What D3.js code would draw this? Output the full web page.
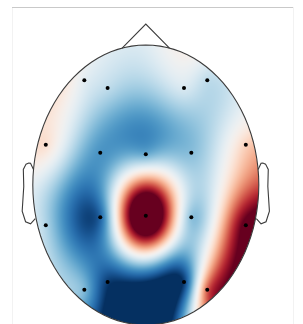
<!DOCTYPE html>
<html lang="en">
<head>
  <meta charset="UTF-8">
  <title>Topomap</title>
  <style>
    html, body { margin: 0; padding: 0; background: #fff; overflow: hidden; }
    #wrap { position: relative; width: 303px; height: 324px; }
    canvas, svg { position: absolute; left: 0; top: 0; }
  </style>
</head>
<body>
  <div id="wrap">
    <canvas id="map" width="303" height="324"></canvas>
    <svg id="chart" width="303" height="324"></svg>
  </div>
  <script src="https://d3js.org/d3.v7.min.js"></script>
  <script>
// channel positions on the unit head circle (x right, y towards nose)
const chNames = ["AF7","AF3","AF4","AF8","FT7","FC3","FCz","FC4","FT8",
                 "TP7","CP3","CPz","CP4","TP8","PO7","PO3","PO4","PO8"];
const chX = [-0.544,-0.338, 0.338, 0.544,-0.885,-0.403, 0.000, 0.403, 0.885,
             -0.885,-0.403, 0.000, 0.403, 0.885,-0.544,-0.338, 0.338, 0.544];
const chY = [ 0.748, 0.692, 0.692, 0.748, 0.287, 0.231, 0.219, 0.231, 0.287,
             -0.287,-0.231,-0.219,-0.231,-0.287,-0.748,-0.692,-0.692,-0.748];
// values (colour limits -1 .. 1)
const chVal = [-0.10,-0.25,-0.15,-0.25, 0.15,-0.60,-0.50,-0.42, 0.22,
               -0.30,-0.80, 1.70,-0.40, 1.10,-0.45,-0.95,-0.95, 0.60];

// extrapolation points on the head rim (angle in degrees, 0 = right, 90 = nose)
const rimAngle = [0, 22.5, 45, 67.5, 90, 112.5, 135, 157.5,
                  180, 202.5, 225, 247.5, 270, 292.5, 315, 337.5];
const rimVal = [0.70, 0.15, -0.20, 0.05, -0.10, -0.08, 0.15, 0.15,
                -0.05, -0.15, -0.30, -1.00, -1.50, -0.15, 1.10, 1.30];
const rimR = 1.05;

const W = 303, H = 324;
const cx = 145.8, cy = 185, rx = 113, ry = 140;

const x = d3.scaleLinear().domain([-1, 1]).range([cx - rx, cx + rx]);
const y = d3.scaleLinear().domain([-1, 1]).range([cy + ry, cy - ry]);
const color = d3.scaleSequential(t => d3.interpolateRdBu(1 - t)).domain([-1, 1]).clamp(true);

// thin plate spline through channels + rim points
const pts = chX.map((d, i) => [d, chY[i], chVal[i]])
  .concat(rimAngle.map((a, i) => [rimR * Math.cos(a * Math.PI / 180), rimR * Math.sin(a * Math.PI / 180), rimVal[i]]));

function phi(r) { return r < 1e-9 ? 0 : r * r * Math.log(r); }

function solve(A, b) {
  const n = b.length;
  const M = A.map((row, i) => row.concat([b[i]]));
  for (let c = 0; c < n; c++) {
    let p = c;
    for (let r = c + 1; r < n; r++) if (Math.abs(M[r][c]) > Math.abs(M[p][c])) p = r;
    [M[c], M[p]] = [M[p], M[c]];
    for (let r = c + 1; r < n; r++) {
      const f = M[r][c] / M[c][c];
      for (let k = c; k <= n; k++) M[r][k] -= f * M[c][k];
    }
  }
  const out = new Array(n).fill(0);
  for (let r = n - 1; r >= 0; r--) {
    let s = M[r][n];
    for (let k = r + 1; k < n; k++) s -= M[r][k] * out[k];
    out[r] = s / M[r][r];
  }
  return out;
}

const n = pts.length;
const A = [], b = [];
for (let i = 0; i < n + 3; i++) A.push(new Array(n + 3).fill(0));
pts.forEach((p, i) => {
  pts.forEach((q, j) => { A[i][j] = phi(Math.hypot(p[0] - q[0], p[1] - q[1])); });
  A[i][n] = 1; A[i][n + 1] = p[0]; A[i][n + 2] = p[1];
  A[n][i] = 1; A[n + 1][i] = p[0]; A[n + 2][i] = p[1];
  b.push(p[2]);
});
b.push(0, 0, 0);
const coef = solve(A, b);

function field(u, v) {
  let s = coef[n] + coef[n + 1] * u + coef[n + 2] * v;
  for (let i = 0; i < n; i++) s += coef[i] * phi(Math.hypot(u - pts[i][0], v - pts[i][1]));
  return s;
}

// raster image of the field
const off = document.createElement("canvas");
off.width = W; off.height = H;
const octx = off.getContext("2d");
const img = octx.createImageData(W, H);
for (let py = 0; py < H; py++) {
  for (let px = 0; px < W; px++) {
    const u = x.invert(px + 0.5), v = y.invert(py + 0.5);
    if (u * u + v * v > 1.05) continue;
    const c = d3.rgb(color(field(u, v)));
    const k = (py * W + px) * 4;
    img.data[k] = c.r; img.data[k + 1] = c.g; img.data[k + 2] = c.b; img.data[k + 3] = 255;
  }
}
octx.putImageData(img, 0, 0);

const ctx = document.getElementById("map").getContext("2d");
ctx.save();
ctx.beginPath();
ctx.ellipse(cx, cy, rx, ry, 0, 0, 2 * Math.PI);
ctx.clip();
ctx.drawImage(off, 0, 0);
ctx.restore();

const svg = d3.select("#chart");

// axes frame
svg.append("rect")
  .attr("x", 12.5).attr("y", 7.5)
  .attr("width", 281).attr("height", 330)
  .attr("fill", "none").attr("stroke", "#f2f2f2");
svg.append("line")
  .attr("x1", 12).attr("x2", 293).attr("y1", 7.5).attr("y2", 7.5)
  .attr("stroke", "#c9c9c9").attr("stroke-width", 1.2);

// head outline, nose, ears
const line = d3.line().x(d => x(d[0])).y(d => y(d[1]));
const ll = d3.range(101).map(i => i / 100 * 2 * Math.PI);
const dx = Math.cos(Math.acos(12 * Math.PI / 180)), dy = Math.sin(Math.acos(12 * Math.PI / 180));
const earX = [.497, .510, .518, .5299, .5419, .54, .547, .532, .510, .489];
const earY = [.0555, .0775, .0783, .0746, .0555, -.0055, -.0932, -.1313, -.1384, -.1199];

const outline = svg.append("g")
  .attr("fill", "none").attr("stroke", "#3b3b3b").attr("stroke-width", 1.1);
outline.append("path").attr("d", line(ll.map(a => [Math.cos(a), Math.sin(a)])));
outline.append("path").attr("d", line([[-dx, dy], [0, 1.15], [dx, dy]]));
outline.append("path").attr("d", line(earX.map((d, i) => [d * 2, earY[i] * 2])));
outline.append("path").attr("d", line(earX.map((d, i) => [-d * 2, earY[i] * 2])));

// sensors
svg.append("g")
  .selectAll("circle")
  .data(chNames)
  .join("circle")
  .attr("cx", (d, i) => x(chX[i]))
  .attr("cy", (d, i) => y(chY[i]))
  .attr("r", 2)
  .attr("fill", "#000");
  </script>
</body>
</html>
